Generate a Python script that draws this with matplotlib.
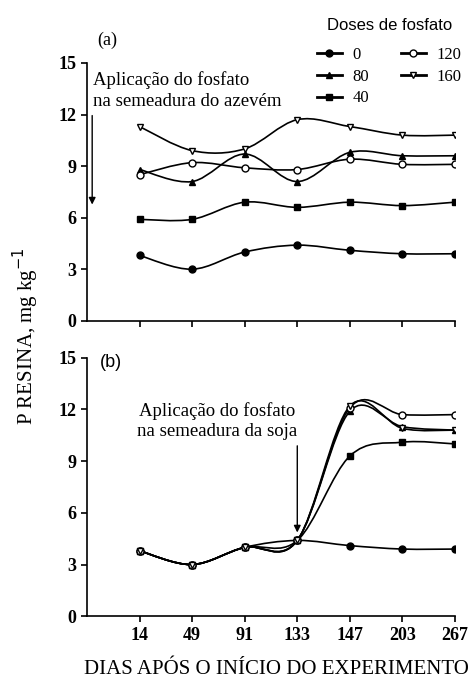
import numpy as np
from matplotlib import pyplot as plt
from matplotlib import rc
from matplotlib.path import Path
from matplotlib.patches import PathPatch
from matplotlib.lines import Line2D

rc('font', family='serif', serif=['Liberation Serif', 'DejaVu Serif'])

dias = ['14', '49', '91', '133', '147', '203', '267']
doses = ['0', '80', '40', '120', '160']

# (a) fosfato aplicado na semeadura do azevem
a_0 = [3.8, 3.0, 4.0, 4.4, 4.1, 3.9, 3.9]
a_40 = [5.9, 5.9, 6.9, 6.6, 6.9, 6.7, 6.9]
a_80 = [8.8, 8.1, 9.7, 8.1, 9.8, 9.6, 9.6]
a_120 = [8.5, 9.2, 8.9, 8.8, 9.4, 9.1, 9.1]
a_160 = [11.3, 9.9, 10.0, 11.7, 11.3, 10.8, 10.8]

# (b) fosfato aplicado na semeadura da soja
b_0 = [3.8, 3.0, 4.0, 4.4, 4.1, 3.9, 3.9]
b_40 = [3.8, 3.0, 4.0, 4.4, 9.3, 10.1, 10.0]
b_80 = [3.8, 3.0, 4.0, 4.4, 11.9, 11.0, 10.8]
b_120 = [3.8, 3.0, 4.0, 4.4, 12.1, 11.7, 11.7]
b_160 = [3.8, 3.0, 4.0, 4.4, 12.2, 10.9, 10.8]

estilos = {
    '0': dict(marker='o', mfc='k'),
    '40': dict(marker='s', mfc='k'),
    '80': dict(marker='^', mfc='k'),
    '120': dict(marker='o', mfc='w'),
    '160': dict(marker='v', mfc='w'),
}


def suave(ax, x, y, **kw):
    # curva suavizada tipo excel (bezier com tangentes catmull-rom)
    pts = np.column_stack([x, y]).astype(float)
    n = len(pts)
    verts = [pts[0]]
    codes = [Path.MOVETO]
    for i in range(n - 1):
        p0 = pts[max(i - 1, 0)]
        p1 = pts[i]
        p2 = pts[i + 1]
        p3 = pts[min(i + 2, n - 1)]
        verts += [p1 + (p2 - p0) / 6, p2 - (p3 - p1) / 6, p2]
        codes += [Path.CURVE4] * 3
    ax.add_patch(PathPatch(Path(verts, codes), fc='none', ec='k', **kw))


fig = plt.figure(figsize=(4.75, 6.84), dpi=100)
ax1 = fig.add_axes([0.183, 0.531, 0.775, 0.377])
ax2 = fig.add_axes([0.183, 0.099, 0.775, 0.378])

x = np.arange(len(dias))
series = [
    (ax1, {'0': a_0, '40': a_40, '80': a_80, '120': a_120, '160': a_160}),
    (ax2, {'0': b_0, '40': b_40, '80': b_80, '120': b_120, '160': b_160}),
]
for ax, dados in series:
    for d in ['0', '40', '80', '120', '160']:
        suave(ax, x, dados[d], lw=1.2, zorder=2)
        ax.plot(x, dados[d], ls='none', mec='k', ms=5, mew=1, zorder=3, **estilos[d])
    ax.set_xlim(-1, 6)
    ax.set_ylim(0, 15)
    ax.set_yticks(range(0, 16, 3))
    ax.set_xticks(x)
    for s in ['top', 'right']:
        ax.spines[s].set_visible(False)
    for s in ['left', 'bottom']:
        ax.spines[s].set_linewidth(1.2)
    ax.tick_params(direction='out', length=4, width=1.2, labelsize=13)
    for t in ax.get_yticklabels():
        t.set_fontweight('bold')

ax1.set_xticklabels([])
ax2.set_xticklabels(dias, fontweight='bold')
ax2.tick_params(axis='x', pad=4)

ax1.text(-0.81, 16.05, '(a)', fontsize=13)
ax2.text(-0.75, 14.45, '(b)', fontsize=13, family='Liberation Sans')

ax1.text(-0.89, 14.5, 'Aplicação do fosfato\nna semeadura do azevém',
         fontsize=13.5, linespacing=1.25, va='top')
ax1.annotate('', xy=(-0.9, 6.6), xytext=(-0.9, 12.1),
             arrowprops=dict(arrowstyle='-|>', color='k', lw=1, mutation_scale=10))
ax2.text(1.47, 12.45, 'Aplicação do fosfato\nna semeadura da soja',
         fontsize=13.5, linespacing=1.25, ha='center', va='top')
ax2.annotate('', xy=(3.0, 4.7), xytext=(3.0, 10.05),
             arrowprops=dict(arrowstyle='-|>', color='k', lw=1, mutation_scale=10))

handles = [Line2D([], [], color='k', lw=2, mec='k', ms=5, **estilos[d]) for d in doses]
leg = fig.legend(handles, doses, loc='upper right', bbox_to_anchor=(0.972, 0.974),
                 ncol=2, frameon=False, fontsize=12, handlelength=1.5,
                 handletextpad=0.65, columnspacing=1.9, labelspacing=0.35,
                 borderpad=0, borderaxespad=0,
                 title='Doses de fosfato',
                 title_fontproperties={'family': 'Liberation Sans', 'size': 12})
leg._legend_box.sep = 10

fig.text(0.055, 0.509, 'P RESINA, mg kg$^{-1}$', rotation=90, fontsize=15,
         ha='center', va='center')
fig.text(0.177, 0.015, 'DIAS APÓS O INÍCIO DO EXPERIMENTO', fontsize=15,
         ha='left', va='baseline')

fig.savefig('out.png', dpi=100)
